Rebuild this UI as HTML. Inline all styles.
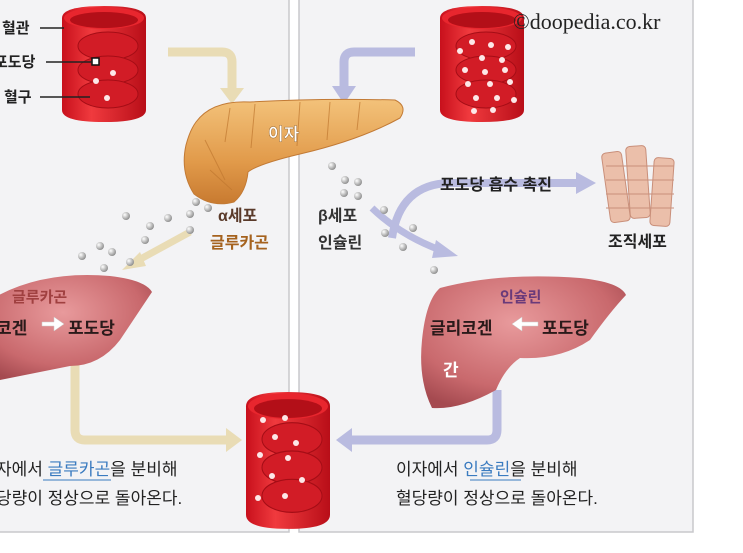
<!DOCTYPE html>
<html><head><meta charset="utf-8"><style>
html,body{margin:0;padding:0;background:#fff;}
svg{display:block;font-family:"Liberation Sans","Noto Sans CJK KR","NanumGothic",sans-serif;}
</style></head><body>
<svg width="743" height="553" viewBox="0 0 743 553" xmlns="http://www.w3.org/2000/svg">
<defs>
<linearGradient id="vr" x1="0" x2="1"><stop offset="0" stop-color="#c8101c"/><stop offset=".35" stop-color="#f03a3e"/><stop offset="1" stop-color="#b80e18"/></linearGradient>
<radialGradient id="lv" cx=".45" cy=".35" r=".7"><stop offset="0" stop-color="#e89a9c"/><stop offset=".7" stop-color="#c9696d"/><stop offset="1" stop-color="#a54a50"/></radialGradient>
<linearGradient id="pc" x1="0" y1="0" x2="0" y2="1"><stop offset="0" stop-color="#f3c27a"/><stop offset=".6" stop-color="#e19a4a"/><stop offset="1" stop-color="#c87a30"/></linearGradient>
<radialGradient id="ball" cx=".35" cy=".35" r=".7"><stop offset="0" stop-color="#fff"/><stop offset="1" stop-color="#8a8a8a"/></radialGradient>
<g id="vessel">
<path d="M0 12 Q0 0 42 0 Q84 0 84 12 L84 104 Q84 116 42 116 Q0 116 0 104 Z" fill="url(#vr)"/>
<ellipse cx="42" cy="12" rx="40" ry="11" fill="#e8262e"/>
<ellipse cx="42" cy="14" rx="34" ry="8" fill="#b30f18"/>
<ellipse cx="46" cy="40" rx="30" ry="14" fill="#d21c26" stroke="#a50d16"/>
<ellipse cx="46" cy="64" rx="30" ry="14" fill="#d21c26" stroke="#a50d16"/>
<ellipse cx="46" cy="88" rx="30" ry="14" fill="#d21c26" stroke="#a50d16"/>
</g>
</defs>
<rect x="-2" y="-2" width="291" height="534" fill="#f3f3f5" stroke="#c8c8cc" stroke-width="1.5"/>
<rect x="299" y="-2" width="394" height="534" fill="#f3f3f5" stroke="#c8c8cc" stroke-width="1.5"/>

<path d="M168 52 L222 52 Q232 52 232 62 L232 90" fill="none" stroke="#e9dcb5" stroke-width="9"/>
<path d="M220 88 L244 88 L232 104 Z" fill="#e9dcb5"/>
<path d="M75 360 L75 430 Q75 440 85 440 L228 440" fill="none" stroke="#e9dcb5" stroke-width="9"/>
<path d="M226 428 L242 440 L226 452 Z" fill="#e9dcb5"/>
<path d="M190 232 L135 262" stroke="#e9dcb5" stroke-width="7"/>
<path d="M140 252 L122 270 L146 266 Z" fill="#e9dcb5"/>
<path d="M415 52 L354 52 Q344 52 344 62 L344 88" fill="none" stroke="#b9bbe0" stroke-width="9"/>
<path d="M332 86 L356 86 L344 104 Z" fill="#b9bbe0"/>
<path d="M497 390 L497 430 Q497 440 487 440 L350 440" fill="none" stroke="#b9bbe0" stroke-width="9"/>
<path d="M352 428 L336 440 L352 452 Z" fill="#b9bbe0"/>
<path d="M392 238 Q400 184 450 183 L578 183" fill="none" stroke="#b9bbe0" stroke-width="8"/>
<path d="M576 172 L596 183 L576 194 Z" fill="#b9bbe0"/>
<path d="M372 208 Q400 235 440 250" fill="none" stroke="#b9bbe0" stroke-width="7"/>
<path d="M436 240 L458 256 L432 258 Z" fill="#b9bbe0"/>

<use href="#vessel" x="62" y="6"/>
<use href="#vessel" x="440" y="6"/>
<g transform="translate(246 392) scale(1 1.18)"><use href="#vessel"/></g>
<g fill="#fde8e8">
<circle cx="96" cy="62" r="3"/><circle cx="113" cy="73" r="3"/><circle cx="96" cy="81" r="3"/><circle cx="107" cy="98" r="3"/>
<circle cx="472" cy="42" r="3"/><circle cx="491" cy="45" r="3"/><circle cx="508" cy="47" r="3"/><circle cx="482" cy="58" r="3"/><circle cx="502" cy="60" r="3"/><circle cx="460" cy="51" r="3"/><circle cx="465" cy="70" r="3"/><circle cx="485" cy="72" r="3"/><circle cx="505" cy="70" r="3"/><circle cx="468" cy="84" r="3"/><circle cx="490" cy="84" r="3"/><circle cx="510" cy="82" r="3"/><circle cx="476" cy="98" r="3"/><circle cx="497" cy="98" r="3"/><circle cx="514" cy="100" r="3"/><circle cx="474" cy="111" r="3"/><circle cx="493" cy="110" r="3"/>
<circle cx="263" cy="420" r="3"/><circle cx="285" cy="418" r="3"/><circle cx="275" cy="437" r="3"/><circle cx="296" cy="443" r="3"/><circle cx="260" cy="455" r="3"/><circle cx="288" cy="458" r="3"/><circle cx="272" cy="476" r="3"/><circle cx="302" cy="480" r="3"/><circle cx="258" cy="498" r="3"/><circle cx="285" cy="496" r="3"/>
</g>
<rect x="92" y="58" width="7" height="7" fill="#fff" stroke="#111" stroke-width="1.5"/>
<g stroke="#222" stroke-width="1.5"><line x1="40" y1="28" x2="64" y2="28"/><line x1="46" y1="62" x2="92" y2="62"/><line x1="40" y1="97" x2="90" y2="97"/></g>
<g font-size="15" fill="#222" font-weight="bold"><text x="2" y="33">혈관</text><text x="-6" y="67">포도당</text><text x="4" y="102">혈구</text></g>

<path d="M196 122 Q212 100 250 102 Q320 98 395 100 Q408 106 400 118 Q360 140 300 154 Q258 164 248 172 Q246 192 234 202 Q212 208 194 194 Q180 172 186 145 Q190 130 196 122 Z" fill="url(#pc)" stroke="#c27a35"/>
<g stroke="#c07830" stroke-width="1" fill="none" opacity=".7"><path d="M230 108 l-5 34"/><path d="M255 104 l-4 44"/><path d="M300 102 l-3 44"/><path d="M330 102 l-3 38"/><path d="M360 102 l-3 28"/><path d="M205 140 l20 40"/><path d="M210 170 l22 20"/></g>
<text x="268" y="140" font-size="17" fill="#fff" stroke="#a0703a" stroke-width=".5" font-weight="bold">이자</text>

<g fill="url(#ball)">
<circle cx="196" cy="202" r="4"/><circle cx="208" cy="208" r="4"/><circle cx="190" cy="214" r="4"/><circle cx="168" cy="218" r="4"/><circle cx="150" cy="226" r="4"/><circle cx="190" cy="230" r="4"/><circle cx="126" cy="216" r="4"/><circle cx="145" cy="240" r="4"/><circle cx="100" cy="246" r="4"/><circle cx="112" cy="252" r="4"/><circle cx="130" cy="262" r="4"/><circle cx="82" cy="256" r="4"/><circle cx="104" cy="268" r="4"/>
<circle cx="332" cy="166" r="4"/><circle cx="345" cy="180" r="4"/><circle cx="358" cy="182" r="4"/><circle cx="344" cy="193" r="4"/><circle cx="358" cy="196" r="4"/><circle cx="384" cy="210" r="4"/><circle cx="385" cy="233" r="4"/><circle cx="413" cy="228" r="4"/><circle cx="403" cy="247" r="4"/><circle cx="434" cy="270" r="4"/>
</g>
<g font-size="16" font-weight="bold"><text x="218" y="221" fill="#5a3a2a">α세포</text><text x="210" y="248" fill="#a5621e">글루카곤</text>
<text x="318" y="221" fill="#333">β세포</text><text x="318" y="248" fill="#333">인슐린</text>
<text x="440" y="190" fill="#222">포도당 흡수 촉진</text><text x="608" y="247" fill="#222">조직세포</text></g>
<text x="513" y="29" font-family="Liberation Serif,serif" font-size="22" fill="#222">©doopedia.co.kr</text>

<g fill="#ebbfaa" stroke="#c98f7a" stroke-width="1">
<rect x="606" y="152" width="20" height="70" rx="4" transform="rotate(-8 616 187)"/>
<rect x="628" y="146" width="20" height="72" rx="4" transform="rotate(-4 638 182)"/>
<rect x="652" y="158" width="20" height="68" rx="4" transform="rotate(4 662 192)"/>
</g>
<g stroke="#c98f7a" stroke-width="1"><line x1="606" y1="166" x2="674" y2="166"/><line x1="606" y1="180" x2="674" y2="180"/><line x1="606" y1="194" x2="674" y2="194"/><line x1="606" y1="208" x2="674" y2="208"/></g>

<path d="M-10 300 Q40 270 110 276 Q145 280 152 292 Q140 310 120 340 Q100 366 70 366 Q40 372 -10 382 Z" fill="url(#lv)"/>
<path d="M440 288 Q500 272 580 278 Q620 282 626 295 Q610 312 590 340 Q560 360 520 358 Q505 368 496 390 Q460 410 432 408 Q418 380 422 340 Q426 300 440 288 Z" fill="url(#lv)"/>
<g font-size="15" font-weight="bold"><text x="12" y="302" fill="#a04040">글루카곤</text><text x="500" y="302" fill="#6a3a7a">인슐린</text></g>
<g font-size="17" font-weight="bold" fill="#2a1a1a"><text x="-4" y="334">코겐</text><text x="68" y="334">포도당</text><text x="430" y="334">글리코겐</text><text x="542" y="334">포도당</text></g>
<path d="M42 322 L54 322 L54 317 L64 324 L54 331 L54 326 L42 326 Z" fill="#fff" stroke="#ccc" stroke-width=".5"/>
<path d="M538 322 L522 322 L522 317 L512 324 L522 331 L522 326 L538 326 Z" fill="#fff" stroke="#ccc" stroke-width=".5"/>
<text x="443" y="376" font-size="17" font-weight="bold" fill="#fff">간</text>

<g font-size="17" fill="#222"><text x="-4" y="475">자에서 <tspan fill="#3a7bc0">글루카곤</tspan>을 분비해</text><text x="-4" y="504">당량이 정상으로 돌아온다.</text>
<text x="396" y="475">이자에서 <tspan fill="#3a7bc0">인슐린</tspan>을 분비해</text><text x="396" y="504">혈당량이 정상으로 돌아온다.</text></g>
<line x1="43" y1="480" x2="111" y2="480" stroke="#3a7bc0" stroke-width="1"/>
<line x1="470" y1="480" x2="521" y2="480" stroke="#3a7bc0" stroke-width="1"/>
</svg>
</body></html>
